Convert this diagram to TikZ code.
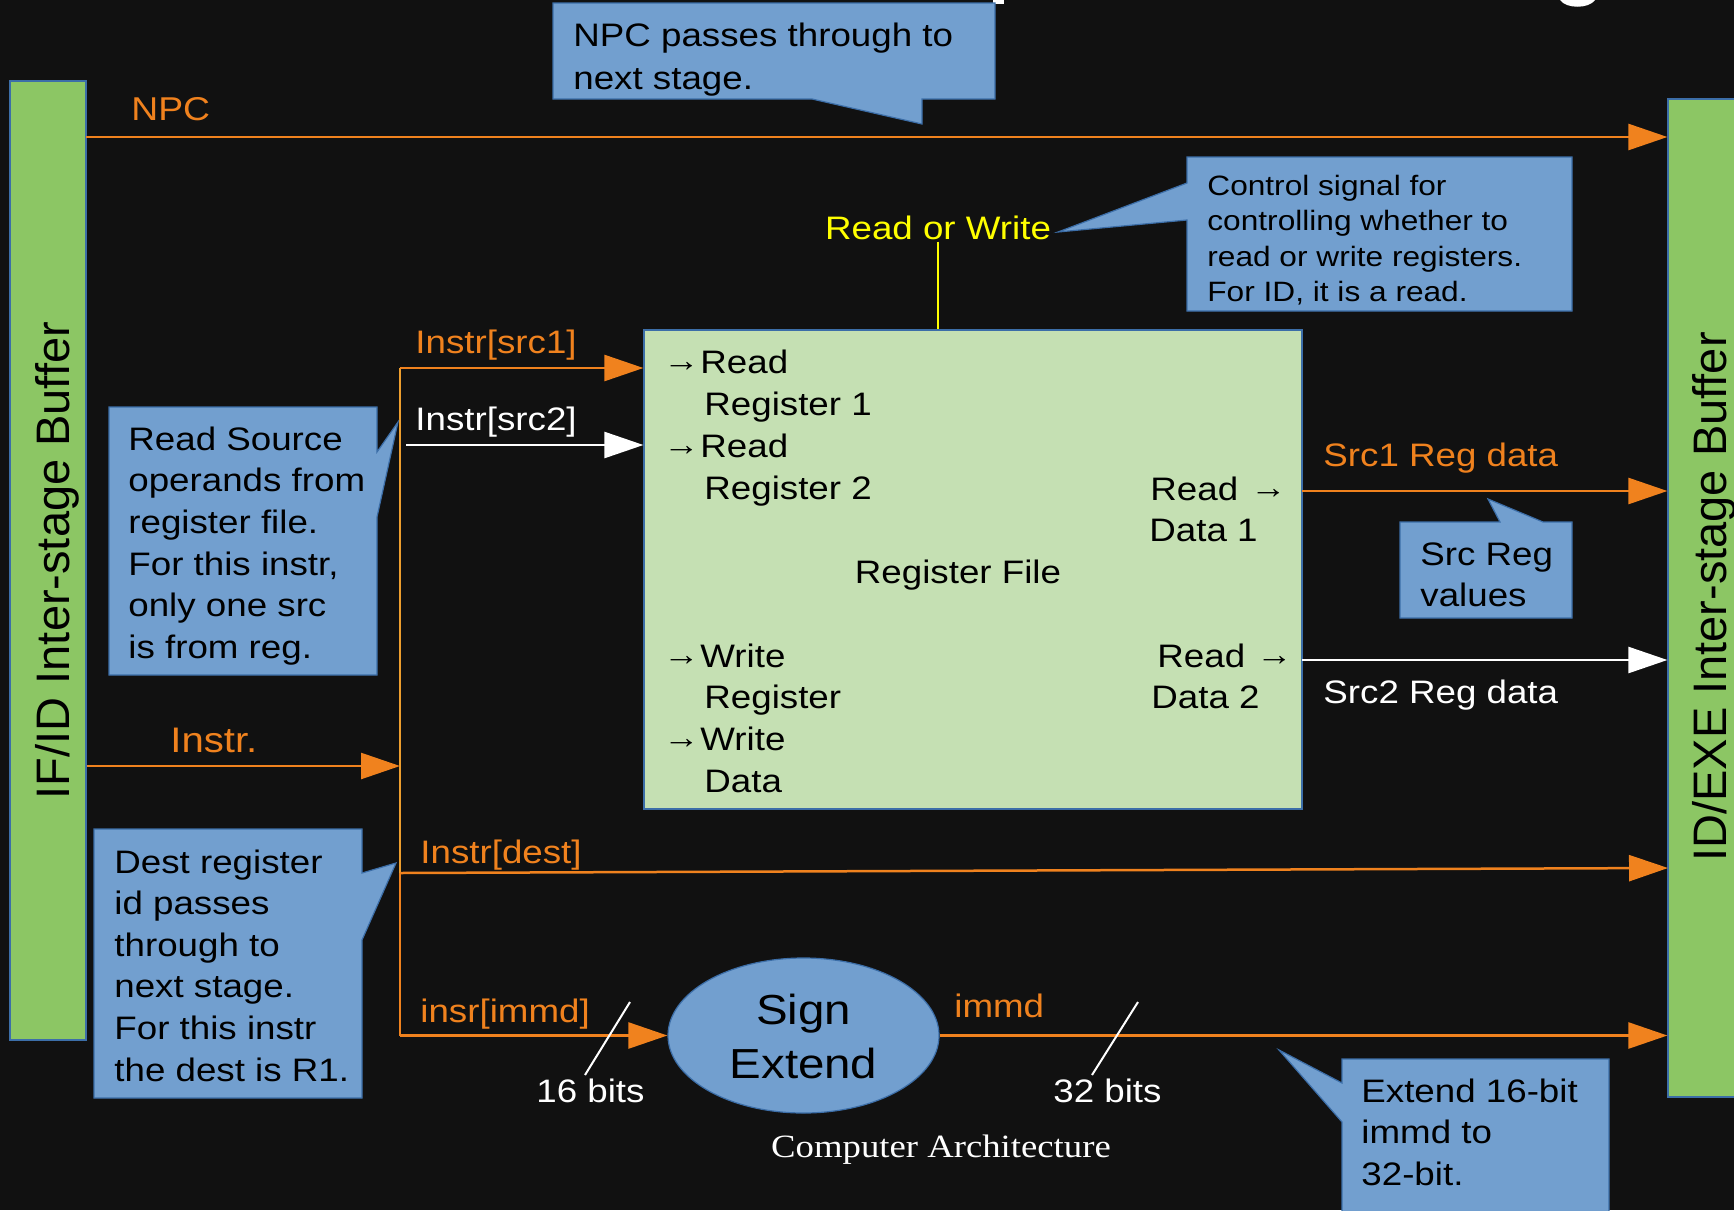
\documentclass[tikz,border=0pt]{standalone}
\usepackage{fontspec}
\setmainfont{Liberation Sans}[FakeStretch=1.13]
\newfontfamily\bufffont{Liberation Sans}
\newfontfamily\serifx{Liberation Serif}[FakeStretch=1.13]
\usetikzlibrary{arrows.meta,shapes.geometric}
\definecolor{bgc}{HTML}{111111}
\definecolor{orng}{HTML}{F0821E}
\definecolor{gold}{HTML}{EE9E2E}
\definecolor{bufgreen}{HTML}{8CC664}
\definecolor{rfgreen}{HTML}{C5E0B3}
\definecolor{cfill}{HTML}{729FCF}
\definecolor{cborder}{HTML}{3C6EA8}
\definecolor{yel}{HTML}{FFFF00}
\newcommand\myfs[1]{\fontsize{#1}{#1}\selectfont}
\begin{document}
\begin{tikzpicture}[x=0.5pt,y=-0.5pt,
  lbl/.style={inner sep=0, anchor=base west, font=\myfs{16.25pt}},
  olbl/.style={lbl, text=orng},
  wlbl/.style={lbl, text=white},
  ctext/.style={lbl, text=black},
  smalltext/.style={lbl, text=black, font=\myfs{14pt}},
  arr/.style={inner sep=0, anchor=center, text=black, font=\myfs{16pt}},
  callout/.style={fill=cfill, draw=cborder, line width=0.6pt},
  buf/.style={fill=bufgreen, draw=cborder, line width=0.6pt, inner sep=0},
  oline/.style={draw=orng, line width=1.25pt},
  wline/.style={draw=white, line width=1.25pt},
  tip/.style={-{Triangle[length=19.5pt,width=13pt]}}
]
\useasboundingbox (0,0) rectangle (1734,1210);
\clip (0,0) rectangle (1734,1210);
\fill[bgc] (0,0) rectangle (1734,1210);

% title fragments at top edge
\fill[white] (993,0) rectangle (1004,3.5);
\fill[white] (1560,0) .. controls (1566,9) and (1589,9) .. (1595,0) -- cycle;

% buffers
\node[buf, minimum width=38pt, minimum height=479.5pt] (lbuf) at (48,560.5) {};
\node[buf, minimum width=36pt, minimum height=499pt] (rbuf) at (1704,598) {};
\node[inner sep=0, anchor=base, rotate=90, font=\bufffont\myfs{23.5pt}] (lbuft) at (69,560.5) {IF/ID Inter-stage Buffer};
\node[inner sep=0, anchor=base, rotate=90, font=\bufffont\myfs{23.5pt}] (rbuft) at (1726,597) {ID/EXE Inter-stage Buffer};

% register file
\node[fill=rfgreen, draw=cborder, line width=0.6pt, inner sep=0, minimum width=329pt, minimum height=239.5pt] (rf) at (973,569.5) {};
\node[arr] (ra1) at (681.5,366.5) {→};
\node[ctext] (rr1) at (700,373) {Read};
\node[ctext] (rr1b) at (704,415) {Register 1};
\node[arr] (ra2) at (681.5,450.5) {→};
\node[ctext] (rr2) at (700,457) {Read};
\node[ctext] (rr2b) at (704,499) {Register 2};
\node[arr] (ra3) at (681.5,660.5) {→};
\node[ctext] (rw1) at (700,667) {Write};
\node[ctext] (rw1b) at (704,708) {Register};
\node[arr] (ra4) at (681.5,743.5) {→};
\node[ctext] (rw2) at (700,750) {Write};
\node[ctext] (rw2b) at (704,792) {Data};
\node[ctext, anchor=base] (rft) at (958,583) {Register File};
\node[ctext] (rd1) at (1150,500) {Read};
\node[arr] (rda1) at (1268.5,493.5) {→};
\node[ctext] (rd1b) at (1149,541) {Data 1};
\node[ctext] (rd2) at (1157,667) {Read};
\node[arr] (rda2) at (1274.5,660.5) {→};
\node[ctext] (rd2b) at (1151,708) {Data 2};

% sign extend
\node[ellipse, fill=cfill, draw=cborder, line width=0.6pt, inner sep=0, minimum width=135.5pt, minimum height=77.5pt] (se) at (803.5,1035.5) {};
\node[lbl, anchor=base, text=black, font=\myfs{21pt}] (se1) at (803.5,1024) {Sign};
\node[lbl, anchor=base, text=black, font=\myfs{21pt}] (se2) at (803.5,1078) {Extend};

% bus coordinates
\coordinate (busTop) at (400,368);
\coordinate (busI) at (400,766);
\coordinate (busD) at (400,873);
\coordinate (busBot) at (400,1035.5);
\coordinate (s2) at (406,445);
\coordinate (npc) at (86,137);
\coordinate (d1) at (1302,491);
\coordinate (d2) at (1302,660);
\coordinate (destEnd) at (1668,868);

% bus
\draw[gold, line width=1.1pt] (busTop) -- (busD);
\draw[orng, line width=1.1pt] (busD) -- (busBot);

% connectors
\draw[oline, tip] (npc) -- (rbuf.west |- npc);
\draw[oline, tip] (busTop) -- (rf.west |- busTop);
\draw[wline, -{Triangle[length=19.5pt,width=13pt,fill=white]}] (s2) -- (rf.west |- s2);
\draw[oline, tip] (lbuf.east |- busI) -- (busI);
\draw[oline, tip] (busD) -- (destEnd);
\draw[oline, tip] (busBot) -- (se.west);
\draw[oline, tip] (se.east) -- (rbuf.west |- se.east);
\draw[oline, tip] (d1) -- (rbuf.west |- d1);
\draw[wline, -{Triangle[length=19.5pt,width=13pt]}] (d2) -- (rbuf.west |- d2);

% read or write
\node[inner sep=1pt, anchor=base, text=yel, font=\myfs{16.25pt}] (rwl) at (938,239) {Read or Write};
\draw[yel, line width=1pt] (rwl.south) -- (rwl.south |- rf.north);

% line labels
\node[olbl, font=\myfs{16.5pt}] (npcl) at (131,120) {NPC};
\node[olbl] (src1l) at (415,353) {Instr[src1]};
\node[wlbl] (src2l) at (415,430) {Instr[src2]};
\node[olbl, font=\myfs{17.75pt}] (instrl) at (170,752) {Instr.};
\node[olbl] (destl) at (420,863) {Instr[dest]};
\node[olbl] (imml) at (420,1022) {insr[immd]};
\node[olbl] (immdl) at (954,1017) {immd};
\node[olbl] (s1dl) at (1323,466) {Src1 Reg data};
\node[wlbl] (s2dl) at (1323,703) {Src2 Reg data};

% bit-width slashes
\coordinate (sa1) at (630,1002); \coordinate (sa2) at (585,1075);
\coordinate (sb1) at (1138,1002); \coordinate (sb2) at (1092,1075);
\draw[white, line width=1pt] (sa1) -- (sa2);
\draw[white, line width=1pt] (sb1) -- (sb2);
\node[wlbl] (b16) at (536,1102) {16 bits};
\node[wlbl] (b32) at (1053,1102) {32 bits};

% footer
\node[inner sep=0, anchor=base, text=white, font=\serifx\myfs{16.25pt}] (footer) at (941,1157) {Computer Architecture};

% callouts
\path[callout] (553,3) -- (995,3) -- (995,99) -- (922,99) -- (922,124) -- (812,99) -- (553,99) -- cycle;
\foreach \t [count=\i from 0] in {{NPC passes through to},{next stage.}}
  \node[ctext] (np\i) at (573,{46.7+42.6*\i}) {\t};

\path[callout] (1187,157) -- (1572,157) -- (1572,311) -- (1187,311) -- (1187,220) -- (1058,232) -- (1187,183) -- cycle;
\foreach \t [count=\i from 0] in {{Control signal for},{controlling whether to},{read or write registers.},{For ID, it is a read.}}
  \node[smalltext] (cs\i) at (1207,{195+35.6*\i}) {\t};

\path[callout] (109,407) -- (377,407) -- (377,452) -- (398,422) -- (377,517) -- (377,675) -- (109,675) -- cycle;
\foreach \t [count=\i from 0] in {{Read Source},{operands from},{register file.},{For this instr,},{only one src},{is from reg.}}
  \node[ctext] (rs\i) at (128,{450+41.7*\i}) {\t};

\path[callout] (94,829) -- (362,829) -- (362,873) -- (396,863) -- (362,940) -- (362,1098) -- (94,1098) -- cycle;
\foreach \t [count=\i from 0] in {{Dest register},{id passes},{through to},{next stage.},{For this instr},{the dest is R1.}}
  \node[ctext] (ds\i) at (114,{873+41.6*\i}) {\t};

\path[callout] (1400,522) -- (1500,522) -- (1488,499) -- (1543,522) -- (1572,522) -- (1572,618) -- (1400,618) -- cycle;
\foreach \t [count=\i from 0] in {{Src Reg},{values}}
  \node[ctext] (sv\i) at (1420,{565+41.7*\i}) {\t};

\path[callout] (1342,1059) -- (1609,1059) -- (1609,1220) -- (1342,1220) -- (1342,1122) -- (1279,1050) -- (1342,1083) -- cycle;
\foreach \t [count=\i from 0] in {{Extend 16-bit},{immd to},{32-bit.}}
  \node[ctext] (ex\i) at (1361,{1102+41.5*\i}) {\t};
\end{tikzpicture}
\end{document}
